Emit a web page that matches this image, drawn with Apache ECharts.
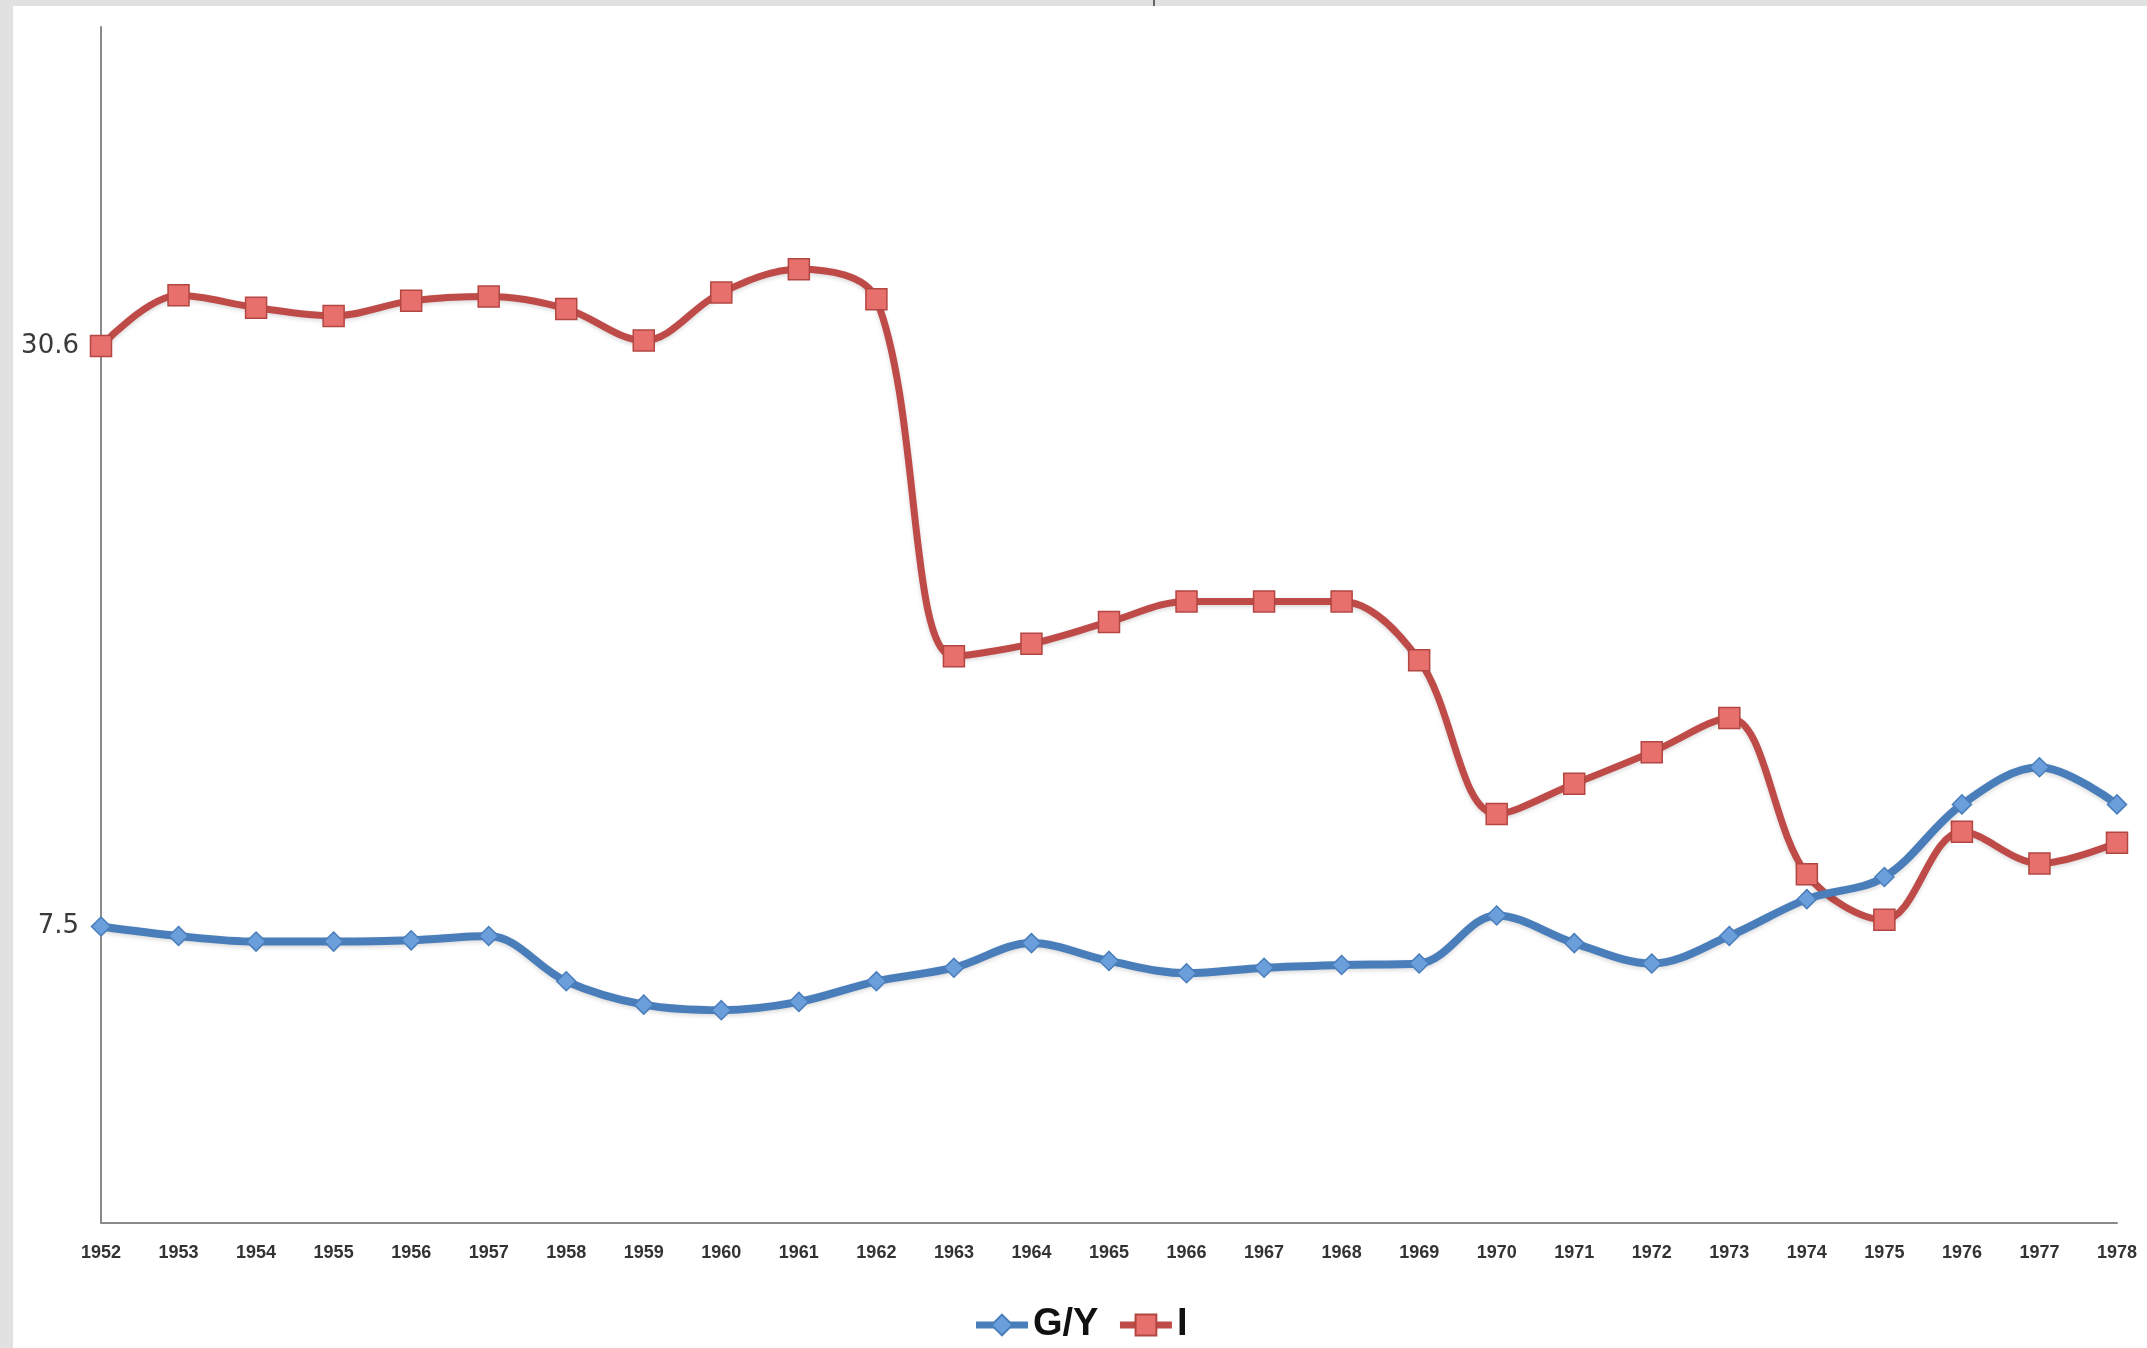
<!DOCTYPE html>
<html>
<head>
<meta charset="utf-8">
<script src="https://cdn.jsdelivr.net/npm/echarts@6/dist/echarts.min.js"></script>
<style>
  html, body { margin: 0; padding: 0; width: 2147px; height: 1348px; background: #e1e1e1; overflow: hidden; }
  #chart { position: absolute; left: 13px; top: 6px; width: 2134px; height: 1342px; background: #fff; }
  #notch { position: absolute; left: 1153px; top: 0; width: 2px; height: 6px; background: #666; }
</style>
</head>
<body>
<div id="notch"></div>
<div id="chart"></div>
<script>
// 年份
const years = ['1952','1953','1954','1955','1956','1957','1958','1959','1960','1961','1962','1963','1964',
  '1965','1966','1967','1968','1969','1970','1971','1972','1973','1974','1975','1976','1977','1978']
// G/Y 序列
const gyValues = [7.5, 7.12, 6.9, 6.9, 6.95, 7.12, 5.32, 4.39, 4.17, 4.5, 5.32, 5.86, 6.84,
  6.13, 5.64, 5.86, 5.97, 6.03, 7.94, 6.84, 6.03, 7.12, 8.59, 9.47, 12.36, 13.84, 12.36]
// I 序列
const iValues = [30.6, 32.62, 32.13, 31.8, 32.4, 32.57, 32.08, 30.82, 32.73, 33.66, 32.46, 18.26, 18.75,
  19.62, 20.44, 20.44, 20.44, 18.1, 11.98, 13.18, 14.44, 15.8, 9.58, 7.77, 11.27, 10.01, 10.83]
// 纵轴只标两个值
const yTicks = [7.5, 30.6]

const ec = echarts.init(document.getElementById('chart'))

const option = {
  backgroundColor: '#fff',
  animation: false,
  grid: { left: 88, top: 21, right: 30, bottom: 125 },
  legend: {
    left: 'center',
    top: 1295,
    itemWidth: 52,
    itemHeight: 26,
    itemGap: 18,
    lineStyle: { width: 7 },
    textStyle: { fontFamily: 'Liberation Sans', fontWeight: 'bold', fontSize: 38, color: '#111' },
    data: ['G/Y', 'I']
  },
  xAxis: {
    type: 'category',
    data: years,
    boundaryGap: false,
    axisLine: { onZero: false, lineStyle: { color: '#8a8a8a', width: 2 } },
    axisTick: { show: false },
    axisLabel: { interval: 0, margin: 21, fontFamily: 'Liberation Sans', fontWeight: 'bold', fontSize: 18, color: '#333' }
  },
  yAxis: {
    type: 'value',
    min: -4.3,
    max: 43.3,
    splitLine: { show: false },
    axisTick: { show: false },
    axisLine: { show: true, lineStyle: { color: '#8a8a8a', width: 2 } },
    axisLabel: { customValues: yTicks, margin: 22, fontFamily: 'DejaVu Sans', fontSize: 26, color: '#3a3a3a' }
  },
  series: [
    {
      name: 'G/Y',
      type: 'line',
      data: gyValues,
      smooth: 0.35,
      symbol: 'diamond',
      symbolSize: 19,
      lineStyle: { color: '#4a7ebb', width: 8, shadowColor: 'rgba(0,0,0,0.15)', shadowBlur: 4, shadowOffsetY: 2 },
      itemStyle: { color: '#6b9fdc', borderColor: '#4a7ebb', borderWidth: 1.5 },
      z: 3
    },
    {
      name: 'I',
      type: 'line',
      data: iValues,
      smooth: 0.35,
      symbol: 'rect',
      symbolSize: 21,
      lineStyle: { color: '#be4b48', width: 7, shadowColor: 'rgba(0,0,0,0.15)', shadowBlur: 4, shadowOffsetY: 2 },
      itemStyle: { color: '#e8706c', borderColor: '#b24642', borderWidth: 1.5 },
      z: 2
    }
  ]
}

ec.setOption(option)
</script>
</body>
</html>
